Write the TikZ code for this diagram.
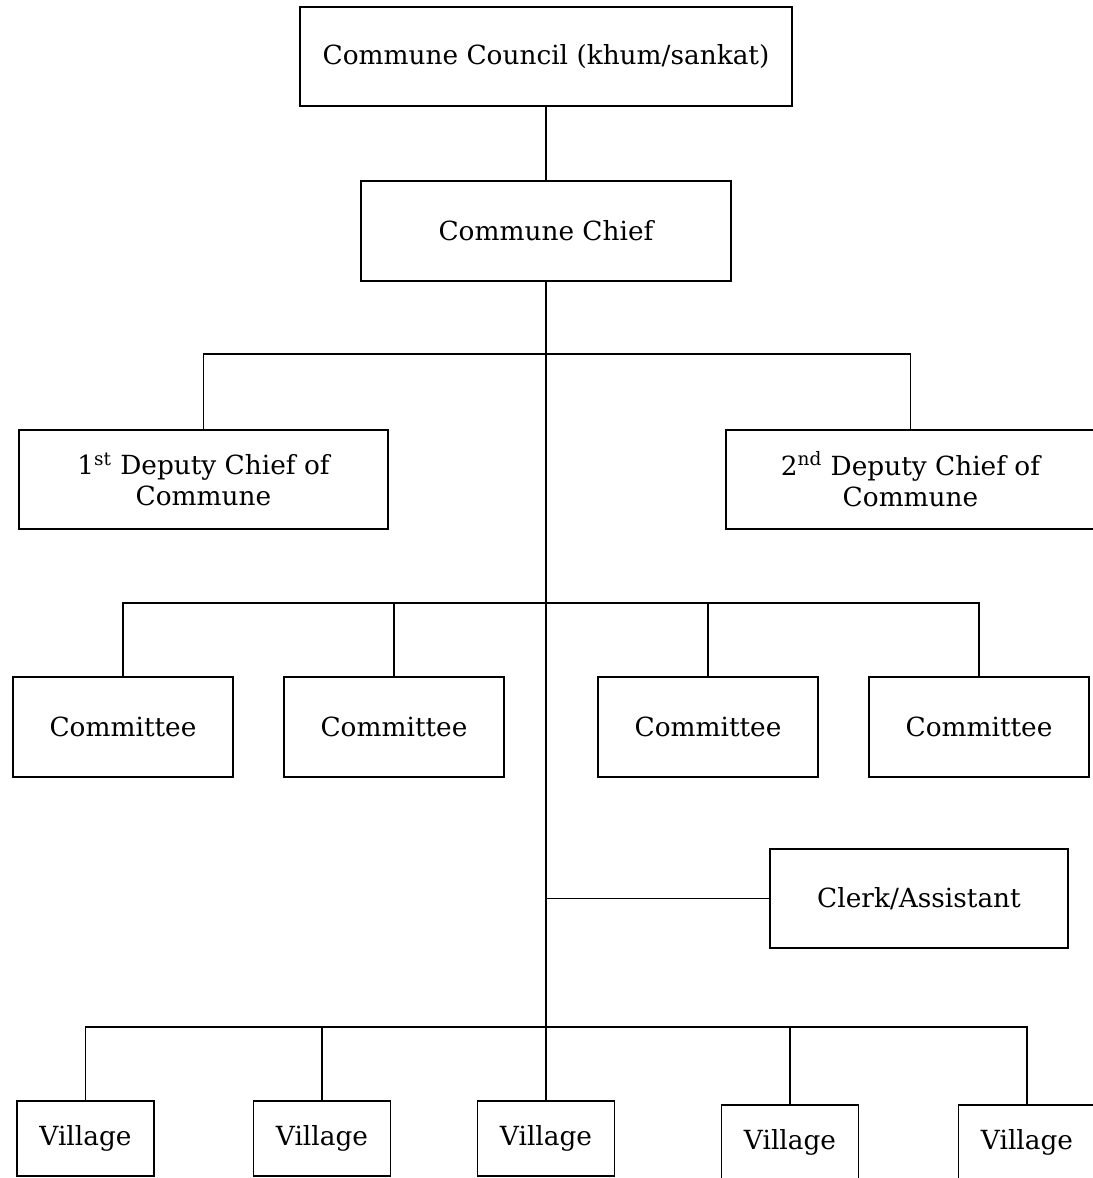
\documentclass[tikz,border=0pt]{standalone}
\usepackage{fontspec}
\setmainfont{DejaVu Serif}
\usetikzlibrary{positioning}

\begin{document}
\begin{tikzpicture}[font=\fontsize{15}{18}\selectfont,
  unit/.style={draw, line width=1pt, inner sep=0pt, align=center},
  link/.style={line width=0.9pt}]
  \useasboundingbox (0,0) rectangle (21.86,23.56);
  % ── Council and chief ──────────────────────────────────────────
  \node[unit, minimum width=9.84cm, minimum height=1.98cm] (council) at (10.92,22.43) {Commune Council (khum/sankat)};
  \node[unit, minimum width=7.40cm, minimum height=2.00cm] (chief) at (10.92,18.94) {Commune Chief};
  \draw[link] (council.south) -- (chief.north);
  % ── Deputies ──────────────────────────────────────────────────
  \node[unit, minimum width=7.38cm, minimum height=1.98cm] (dep1) at (4.07,13.97) {1\textsuperscript{st} Deputy Chief of\\Commune};
  \node[unit, minimum width=7.38cm, minimum height=1.98cm] (dep2) at (18.21,13.97) {2\textsuperscript{nd} Deputy Chief of\\Commune};
  \coordinate (dbus) at (10.92,16.48);
  \draw[link] (dep1.north) |- (dbus) -| (dep2.north);
  % ── Committees ────────────────────────────────────────────────
  \foreach \x/\n in {2.46/1, 7.88/2, 14.16/3, 19.58/4}
    \node[unit, minimum width=4.40cm, minimum height=2.00cm] (com\n) at (\x,9.02) {Committee};
  \coordinate (cbus) at (10.92,11.50);
  \draw[link] (com1.north) |- (cbus) -| (com4.north);
  \foreach \n in {2,3}
    \draw[link] (com\n.north) -- (com\n.north |- cbus);
  \draw[line width=1.6pt] (10.70,11.50) -- (11.40,11.50);
  % ── Clerk ─────────────────────────────────────────────────────
  \node[unit, minimum width=5.96cm, minimum height=1.98cm] (clerk) at (18.38,5.59) {Clerk/Assistant};
  % ── Villages (bottom row runs off the page) ───────────────────
  \foreach \x/\y/\n in {1.71/0.79/1, 6.44/0.79/2, 10.92/0.79/3, 15.80/0.71/4, 20.54/0.71/5}
    \node[unit, minimum width=2.74cm, minimum height=1.50cm] (vil\n) at (\x,\y) {Village};
  \coordinate (vbus) at (10.92,3.02);
  \draw[link] (vil1.north) |- (vbus) -| (vil5.north);
  \foreach \n in {2,3,4}
    \draw[link] (vil\n.north) -- (vil\n.north |- vbus);
  % ── Trunk and clerk branch ────────────────────────────────────
  \draw[link] (chief.south) -- (vbus);
  \draw[link] (clerk.west) -- (clerk.west -| chief.south);
\end{tikzpicture}
\end{document}
